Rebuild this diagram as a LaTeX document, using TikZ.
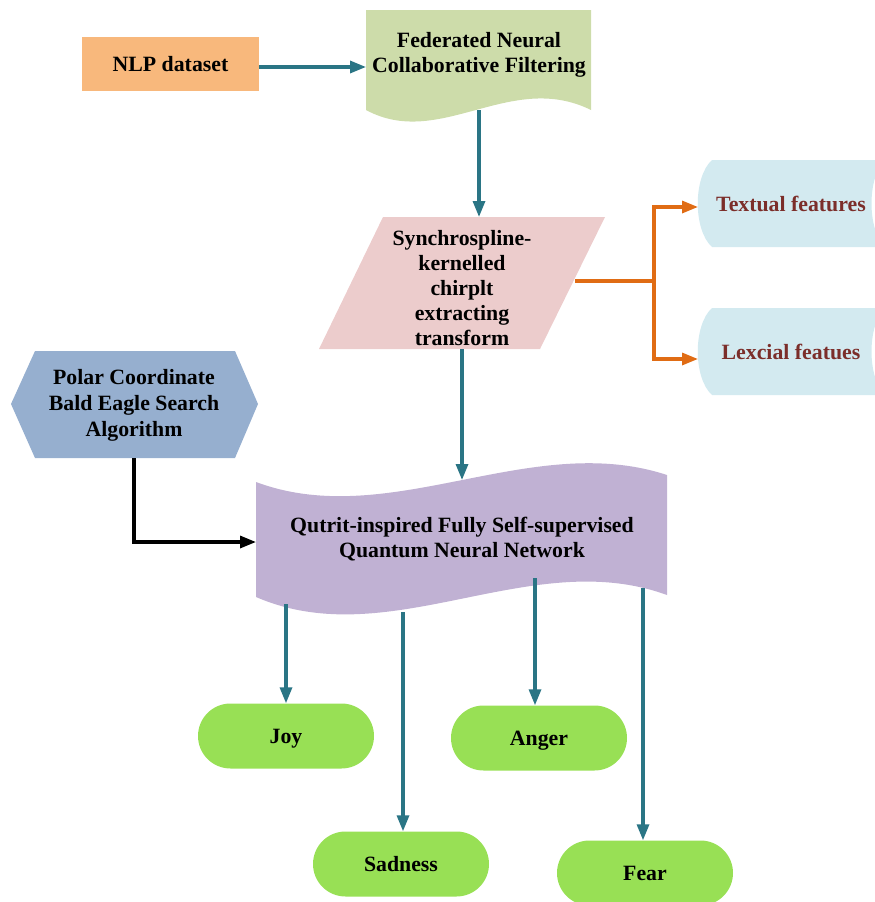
\documentclass[tikz,border=0pt]{standalone}
\usepackage{fontspec}
\setmainfont{Liberation Serif}
\usetikzlibrary{arrows.meta,shapes.misc,calc}
\definecolor{nlpfill}{RGB}{248,184,124}
\definecolor{fedfill}{RGB}{205,220,170}
\definecolor{synfill}{RGB}{236,204,204}
\definecolor{featfill}{RGB}{211,234,240}
\definecolor{feattext}{RGB}{123,46,42}
\definecolor{hexfill}{RGB}{150,175,207}
\definecolor{qtfill}{RGB}{192,177,211}
\definecolor{pillfill}{RGB}{152,224,85}
\definecolor{tealline}{RGB}{42,117,133}
\definecolor{orangeline}{RGB}{224,108,20}
\begin{document}
\begin{tikzpicture}[x=1pt,y=-1pt,
  lbl/.style={font=\fontsize{21.8}{25}\selectfont\bfseries, align=center, inner sep=0pt},
  one/.style={text height=15pt, text depth=0pt},
  tip/.style={-{Triangle[length=16pt,width=12pt]}},
  tarrow/.style={draw=tealline, line width=3.2pt, tip},
  oarrow/.style={draw=orangeline, line width=3.2pt, tip},
  oline/.style={draw=orangeline, line width=3.2pt},
  karrow/.style={draw=black, line width=3.2pt, tip},
  pill/.style={rounded rectangle, fill=pillfill, minimum width=176pt, minimum height=65pt, inner sep=0pt, lbl, one}
]
\useasboundingbox (0,0) rectangle (875,902);

% NLP dataset
\node[fill=nlpfill, minimum width=177pt, minimum height=54pt, inner sep=0pt, lbl, one] (nlp) at (170.5,64) {NLP dataset};

% Federated document shape
\fill[fedfill] (366,10) -- (591,10) -- (591,110) .. controls (510,70) and (440,150) .. (366,110) -- cycle;
\node[lbl] (fed) at (479,54.5) {Federated Neural\\Collaborative Filtering};
\coordinate (fedW) at (366,67);
\coordinate (fedS) at (479,110);

% Synchrospline parallelogram
\fill[synfill] (383,217) -- (605,217) -- (540,349) -- (319,349) -- cycle;
\node[lbl] (syn) at (462,288) {Synchrospline-\\kernelled\\chirplt\\extracting\\transform};
\coordinate (synN) at (479,217);
\coordinate (synE) at (575,281);
\coordinate (synS) at (462,349);
\coordinate (branch) at (654,281);

% feature shapes
\fill[featfill] (712,160) -- (885,160) .. controls (867,177) and (867,230) .. (885,247) -- (712,247) .. controls (693,230) and (693,177) .. (712,160) -- cycle;
\node[lbl, one, text=feattext] (tf) at (791,204) {Textual features};
\coordinate (tfW) at (698,207);
\fill[featfill] (712,308) -- (885,308) .. controls (867,325) and (867,378) .. (885,395) -- (712,395) .. controls (693,378) and (693,325) .. (712,308) -- cycle;
\node[lbl, one, text=feattext] (lf) at (791,352) {Lexcial featues};
\coordinate (lfW) at (698,359);

% hexagon
\fill[hexfill] (11,404) -- (35,351) -- (235,351) -- (258,404) -- (235,458) -- (35,458) -- cycle;
\node[lbl, font=\fontsize{21.8}{26}\selectfont\bfseries] (pc) at (134,405) {Polar Coordinate\\Bald Eagle Search\\Algorithm};
\coordinate (pcS) at (134,458);

% Qutrit tape shape
\fill[qtfill] (256,482) .. controls (390,532) and (530,430) .. (667,475) -- (667,595) .. controls (530,545) and (390,655) .. (256,597) -- cycle;
\node[lbl] (qt) at (462,539) {Qutrit-inspired Fully Self-supervised\\Quantum Neural Network};
\coordinate (qtN) at (462,480);
\coordinate (qtW) at (256,542);
\coordinate (qs1) at (286,604);
\coordinate (qs2) at (403,612);
\coordinate (qs3) at (535,578);
\coordinate (qs4) at (643,588);

% pills
\node[pill] (joy) at (286,736) {Joy};
\node[pill] (anger) at (539,738) {Anger};
\node[pill] (sad) at (401,864) {Sadness};
\node[pill] (fear) at (645,873) {Fear};

% connectors
\draw[tarrow] (nlp.east |- fedW) -- (fedW);
\draw[tarrow] (fedS) -- (synN);
\draw[oline] (synE) -- (branch);
\draw[oarrow] (branch) |- (tfW);
\draw[oarrow] (branch) |- (lfW);
\draw[tarrow] (synS) -- (qtN);
\draw[karrow] (pcS) |- (qtW);
\draw[tarrow] (qs1) -- (qs1 |- joy.north);
\draw[tarrow] (qs2) -- (qs2 |- sad.north);
\draw[tarrow] (qs3) -- (qs3 |- anger.north);
\draw[tarrow] (qs4) -- (qs4 |- fear.north);
\end{tikzpicture}
\end{document}
